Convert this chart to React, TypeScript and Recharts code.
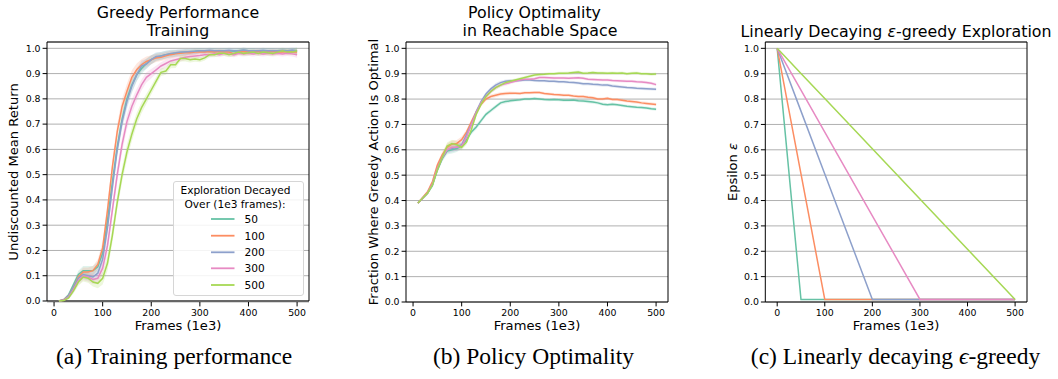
import React from 'react';
import { ComposedChart, Line, Area, XAxis, YAxis, CartesianGrid, ReferenceArea, Legend } from 'recharts';

// ---------- data ----------
const X_A = [10, 20, 30, 40, 50, 60, 70, 80, 90, 100, 110, 120, 130, 140, 150, 160, 170, 180, 190, 200,
  210, 220, 230, 240, 250, 260, 270, 280, 290, 300, 310, 320, 330, 340, 350, 360, 370, 380, 390, 400,
  410, 420, 430, 440, 450, 460, 470, 480, 490, 500];

const A_50 = [0.0, 0.005, 0.025, 0.065, 0.105, 0.12, 0.12, 0.12, 0.135, 0.19, 0.32, 0.47, 0.61, 0.72, 0.8, 0.855, 0.895, 0.92, 0.94, 0.955,
  0.965, 0.97, 0.975, 0.978, 0.98, 0.982, 0.985, 0.986, 0.988, 0.99, 0.988, 0.99, 0.99, 0.988, 0.99, 0.99, 0.988, 0.99, 0.992, 0.99,
  0.99, 0.988, 0.99, 0.99, 0.99, 0.988, 0.99, 0.99, 0.99, 0.99];
const A_100 = [0.0, 0.005, 0.02, 0.055, 0.095, 0.115, 0.115, 0.12, 0.145, 0.21, 0.36, 0.53, 0.67, 0.77, 0.83, 0.885, 0.915, 0.935, 0.948, 0.955,
  0.962, 0.965, 0.97, 0.975, 0.978, 0.98, 0.982, 0.982, 0.985, 0.985, 0.985, 0.987, 0.985, 0.987, 0.985, 0.985, 0.978, 0.985, 0.987, 0.985,
  0.985, 0.987, 0.983, 0.985, 0.987, 0.985, 0.985, 0.987, 0.985, 0.985];
const A_200 = [0.0, 0.004, 0.02, 0.055, 0.09, 0.105, 0.1, 0.095, 0.11, 0.165, 0.29, 0.45, 0.6, 0.71, 0.79, 0.85, 0.895, 0.93, 0.938, 0.955,
  0.968, 0.97, 0.975, 0.98, 0.982, 0.985, 0.985, 0.987, 0.988, 0.99, 0.99, 0.992, 0.99, 0.99, 0.99, 0.992, 0.99, 0.99, 0.993, 0.99,
  0.99, 0.99, 0.992, 0.99, 0.99, 0.99, 0.992, 0.99, 0.993, 0.99];
const A_300 = [0.0, 0.003, 0.015, 0.045, 0.08, 0.1, 0.095, 0.085, 0.09, 0.13, 0.22, 0.36, 0.5, 0.62, 0.71, 0.77, 0.815, 0.855, 0.885, 0.9,
  0.915, 0.93, 0.94, 0.95, 0.955, 0.96, 0.965, 0.968, 0.97, 0.972, 0.975, 0.975, 0.978, 0.975, 0.98, 0.978, 0.975, 0.98, 0.978, 0.98,
  0.978, 0.98, 0.978, 0.98, 0.978, 0.98, 0.978, 0.98, 0.978, 0.975];
const A_500 = [0.0, 0.002, 0.012, 0.04, 0.075, 0.095, 0.09, 0.075, 0.07, 0.09, 0.15, 0.26, 0.39, 0.5, 0.59, 0.66, 0.72, 0.765, 0.8, 0.835,
  0.87, 0.905, 0.91, 0.935, 0.935, 0.96, 0.96, 0.955, 0.958, 0.955, 0.962, 0.975, 0.975, 0.98, 0.98, 0.975, 0.98, 0.985, 0.98, 0.982,
  0.985, 0.98, 0.985, 0.982, 0.98, 0.985, 0.99, 0.985, 0.985, 0.99];
const SPREAD_A = [0.004, 0.005, 0.006, 0.01, 0.015, 0.018, 0.018, 0.018, 0.02, 0.025, 0.03, 0.03, 0.03, 0.03, 0.03, 0.028, 0.025, 0.022, 0.02, 0.018,
  0.016, 0.015, 0.015, 0.014, 0.013, 0.012, 0.012, 0.011, 0.011, 0.01, 0.01, 0.01, 0.01, 0.01, 0.01, 0.01, 0.01, 0.01, 0.01, 0.01,
  0.01, 0.01, 0.01, 0.01, 0.01, 0.01, 0.01, 0.01, 0.01, 0.012];

const B_50 = [0.39, 0.41, 0.43, 0.46, 0.52, 0.565, 0.595, 0.6, 0.605, 0.615, 0.64, 0.67, 0.69, 0.715, 0.74, 0.755, 0.77, 0.785, 0.79, 0.793,
  0.795, 0.797, 0.8, 0.8, 0.802, 0.8, 0.798, 0.797, 0.798, 0.797, 0.795, 0.795, 0.796, 0.793, 0.792, 0.79, 0.788, 0.785, 0.78, 0.778,
  0.78, 0.778, 0.775, 0.772, 0.77, 0.768, 0.767, 0.765, 0.762, 0.76];
const B_100 = [0.39, 0.412, 0.435, 0.475, 0.54, 0.58, 0.61, 0.622, 0.625, 0.64, 0.67, 0.71, 0.75, 0.78, 0.8, 0.81, 0.815, 0.82, 0.822, 0.823,
  0.823, 0.822, 0.825, 0.825, 0.826, 0.826, 0.822, 0.82, 0.818, 0.817, 0.815, 0.815, 0.812, 0.81, 0.81, 0.807, 0.805, 0.8, 0.8, 0.803,
  0.798, 0.798, 0.795, 0.792, 0.79, 0.788, 0.785, 0.783, 0.781, 0.779];
const B_200 = [0.39, 0.41, 0.43, 0.465, 0.525, 0.57, 0.6, 0.605, 0.61, 0.62, 0.66, 0.7, 0.75, 0.79, 0.82, 0.84, 0.855, 0.865, 0.87, 0.872,
  0.872, 0.873, 0.875, 0.875, 0.873, 0.872, 0.872, 0.87, 0.87, 0.868, 0.868, 0.866, 0.865, 0.863, 0.86, 0.86, 0.858, 0.857, 0.855, 0.855,
  0.852, 0.85, 0.848, 0.846, 0.845, 0.843, 0.842, 0.841, 0.84, 0.839];
const B_300 = [0.39, 0.41, 0.43, 0.465, 0.525, 0.57, 0.6, 0.61, 0.61, 0.615, 0.65, 0.7, 0.745, 0.785, 0.81, 0.83, 0.845, 0.855, 0.86, 0.865,
  0.87, 0.875, 0.878, 0.878, 0.88, 0.885, 0.885, 0.884, 0.883, 0.883, 0.883, 0.882, 0.883, 0.884, 0.882, 0.878, 0.877, 0.876, 0.875, 0.875,
  0.873, 0.872, 0.871, 0.87, 0.87, 0.868, 0.867, 0.865, 0.862, 0.857];
const B_500 = [0.39, 0.41, 0.43, 0.462, 0.52, 0.57, 0.615, 0.625, 0.62, 0.61, 0.63, 0.68, 0.74, 0.78, 0.81, 0.83, 0.845, 0.855, 0.865, 0.87,
  0.875, 0.88, 0.885, 0.89, 0.895, 0.897, 0.898, 0.9, 0.9, 0.902, 0.902, 0.903, 0.905, 0.907, 0.902, 0.903, 0.905, 0.903, 0.903, 0.902,
  0.903, 0.902, 0.903, 0.9, 0.902, 0.903, 0.9, 0.9, 0.898, 0.899];
const SPREAD_B = [0.005, 0.006, 0.007, 0.008, 0.01, 0.012, 0.014, 0.015, 0.014, 0.012, 0.01, 0.01, 0.01, 0.009, 0.008, 0.008, 0.008, 0.007, 0.007, 0.007,
  0.006, 0.006, 0.006, 0.006, 0.006, 0.006, 0.006, 0.006, 0.006, 0.006, 0.006, 0.006, 0.006, 0.006, 0.006, 0.006, 0.006, 0.006, 0.006, 0.006,
  0.006, 0.006, 0.006, 0.006, 0.006, 0.006, 0.006, 0.006, 0.006, 0.006];

const X_C = [0, 50, 100, 200, 300, 500];
const C_50 = [1.0, 0.01, 0.01, 0.01, 0.01, 0.01];
const C_100 = [1.0, 0.505, 0.01, 0.01, 0.01, 0.01];
const C_200 = [1.0, 0.7525, 0.505, 0.01, 0.01, 0.01];
const C_300 = [1.0, 0.835, 0.67, 0.34, 0.01, 0.01];
const C_500 = [1.0, 0.901, 0.802, 0.604, 0.406, 0.01];

const SERIES = [
  { key: 's50', label: '50', color: '#66c2a5' },
  { key: 's100', label: '100', color: '#fc8d62' },
  { key: 's200', label: '200', color: '#8da0cb' },
  { key: 's300', label: '300', color: '#e78ac3' },
  { key: 's500', label: '500', color: '#a6d854' },
];

const X_TICKS = [0, 100, 200, 300, 400, 500];
const Y_TICKS = [0, 0.1, 0.2, 0.3, 0.4, 0.5, 0.6, 0.7, 0.8, 0.9, 1.0];

const rowsA = X_A.map((x, i) => ({ x, s50: A_50[i], s100: A_100[i], s200: A_200[i], s300: A_300[i], s500: A_500[i], sp: SPREAD_A[i] }));
const rowsB = X_A.map((x, i) => ({ x, s50: B_50[i], s100: B_100[i], s200: B_200[i], s300: B_300[i], s500: B_500[i], sp: SPREAD_B[i] }));
const rowsC = X_C.map((x, i) => ({ x, s50: C_50[i], s100: C_100[i], s200: C_200[i], s300: C_300[i], s500: C_500[i] }));

// ---------- styling ----------
const FONT = 'DejaVu Sans';
const TICK_STYLE = { fontSize: 9.4, fill: '#000', fontFamily: FONT };
const Y_MAX = 1.025;

function LegendBox() {
  const w = 131, h = 115;
  const rows = [38, 54.7, 71.3, 87.3, 104];
  return (
    <div style={{ width: w, height: h, boxSizing: 'border-box', border: '1px solid #d6d6d6', borderRadius: 3, background: 'rgba(255,255,255,0.85)' }}>
      <svg width={w - 2} height={h - 2} style={{ display: 'block', position: 'absolute', left: 0, top: 0 }}>
        <text x={62.5} y={12.7} textAnchor="middle" fontFamily={FONT} fontSize={10.6} fill="#000">Exploration Decayed</text>
        <text x={62} y={26.7} textAnchor="middle" fontFamily={FONT} fontSize={10.6} fill="#000">Over (1e3 frames):</text>
        {SERIES.map((s, i) => (
          <g key={s.key}>
            <line x1={38} x2={61.5} y1={rows[i]} y2={rows[i]} stroke={s.color} strokeWidth={1.8} />
            <text x={71.5} y={rows[i] + 3.8} fontFamily={FONT} fontSize={10.6} fill="#000">{s.label}</text>
          </g>
        ))}
      </svg>
    </div>
  );
}

type PanelProps = {
  data: any[];
  xDomain: [number, number];
  margin: { top: number; right: number; bottom: number; left: number };
  bands?: boolean;
  legend?: boolean;
};

function Panel({ data, xDomain, margin, bands, legend }: PanelProps) {
  return (
    <ComposedChart width={340} height={345} data={data} margin={margin}>
      <CartesianGrid vertical={false} stroke="#b0b0b0" strokeWidth={1} />
      <XAxis
        type="number"
        dataKey="x"
        domain={xDomain}
        ticks={X_TICKS}
        axisLine={false}
        tickLine={{ stroke: '#000' }}
        tickSize={4.4}
        tickMargin={2.9}
        tick={TICK_STYLE}
        height={30}
        interval={0}
      />
      <YAxis
        type="number"
        domain={[0, Y_MAX]}
        ticks={Y_TICKS}
        axisLine={false}
        tickLine={{ stroke: '#000' }}
        tickSize={4.4}
        tickMargin={2}
        tick={TICK_STYLE}
        width={40}
        interval={0}
        tickFormatter={(v: number) => v.toFixed(1)}
      />
      {bands && SERIES.map((s) => (
        <Area
          key={'band' + s.key}
          type="linear"
          dataKey={(d: any) => [d[s.key] - d.sp, d[s.key] + d.sp]}
          stroke="none"
          fill={s.color}
          fillOpacity={0.2}
          isAnimationActive={false}
          legendType="none"
          activeDot={false}
          dot={false}
        />
      ))}
      {SERIES.map((s) => (
        <Line
          key={s.key}
          type="linear"
          dataKey={s.key}
          stroke={s.color}
          strokeWidth={1.5}
          dot={false}
          activeDot={false}
          isAnimationActive={false}
        />
      ))}
      <ReferenceArea x1={xDomain[0]} x2={xDomain[1]} y1={0} y2={Y_MAX} fill="none" fillOpacity={0} stroke="#000" strokeWidth={1} />
      {legend && (
        <Legend
          layout="horizontal"
          verticalAlign="middle"
          align="center"
          wrapperStyle={{ left: 173, top: 181, width: 131, height: 115 }}
          content={() => <LegendBox />}
        />
      )}
    </ComposedChart>
  );
}

export default function App() {
  const txt = { fontFamily: FONT, fill: '#000' } as const;
  return (
    <div style={{ position: 'absolute', left: 0, top: 0, width: 1058, height: 379, background: '#fff', overflow: 'hidden' }}>
      <div style={{ position: 'absolute', left: 0, top: 0 }}>
        <Panel data={rowsA} xDomain={[-14.5, 524.5]} margin={{ top: 42, right: 31, bottom: 13, left: 7 }} bands legend />
      </div>
      <div style={{ position: 'absolute', left: 360, top: 0 }}>
        <Panel data={rowsB} xDomain={[-14.5, 524.5]} margin={{ top: 42, right: 32, bottom: 13, left: 6 }} bands />
      </div>
      <div style={{ position: 'absolute', left: 718, top: 0 }}>
        <Panel data={rowsC} xDomain={[-25, 525]} margin={{ top: 42, right: 31, bottom: 13, left: 7.3 }} />
      </div>
      <svg width={1058} height={379} style={{ position: 'absolute', left: 0, top: 0, pointerEvents: 'none' }}>
        {/* titles */}
        <text x={178} y={17.7} textAnchor="middle" fontSize={15.8} {...txt}>Greedy Performance</text>
        <text x={178} y={36} textAnchor="middle" fontSize={15.8} {...txt}>Training</text>
        <text x={534.5} y={17.7} textAnchor="middle" fontSize={15.8} {...txt}>Policy Optimality</text>
        <text x={540} y={36} textAnchor="middle" fontSize={15.8} {...txt}>in Reachable Space</text>
        <text x={896} y={36.5} textAnchor="middle" fontSize={15.8} {...txt}>
          Linearly Decaying <tspan fontStyle="italic">ε</tspan>-greedy Exploration
        </text>
        {/* y labels */}
        <text transform="translate(18,172) rotate(-90)" textAnchor="middle" fontSize={13.1} {...txt}>Undiscounted Mean Return</text>
        <text transform="translate(378,172) rotate(-90)" textAnchor="middle" fontSize={13.1} {...txt}>Fraction Where Greedy Action Is Optimal</text>
        <text transform="translate(736.8,172) rotate(-90)" textAnchor="middle" fontSize={13.1} {...txt}>
          Epsilon <tspan fontStyle="italic">ε</tspan>
        </text>
        {/* x labels */}
        <text x={178} y={330} textAnchor="middle" fontSize={13.1} {...txt}>Frames (1e3)</text>
        <text x={537} y={330} textAnchor="middle" fontSize={13.1} {...txt}>Frames (1e3)</text>
        <text x={896} y={330} textAnchor="middle" fontSize={13.1} {...txt}>Frames (1e3)</text>
        {/* captions */}
        <text x={174} y={364} textAnchor="middle" fontSize={23.5} fontFamily="Liberation Serif" fill="#000">(a) Training performance</text>
        <text x={533.5} y={364} textAnchor="middle" fontSize={23.5} fontFamily="Liberation Serif" fill="#000">(b) Policy Optimality</text>
        <text x={895.5} y={364} textAnchor="middle" fontSize={23.5} fontFamily="Liberation Serif" fill="#000">
          (c) Linearly decaying <tspan fontStyle="italic">ϵ</tspan>-greedy
        </text>
      </svg>
    </div>
  );
}
